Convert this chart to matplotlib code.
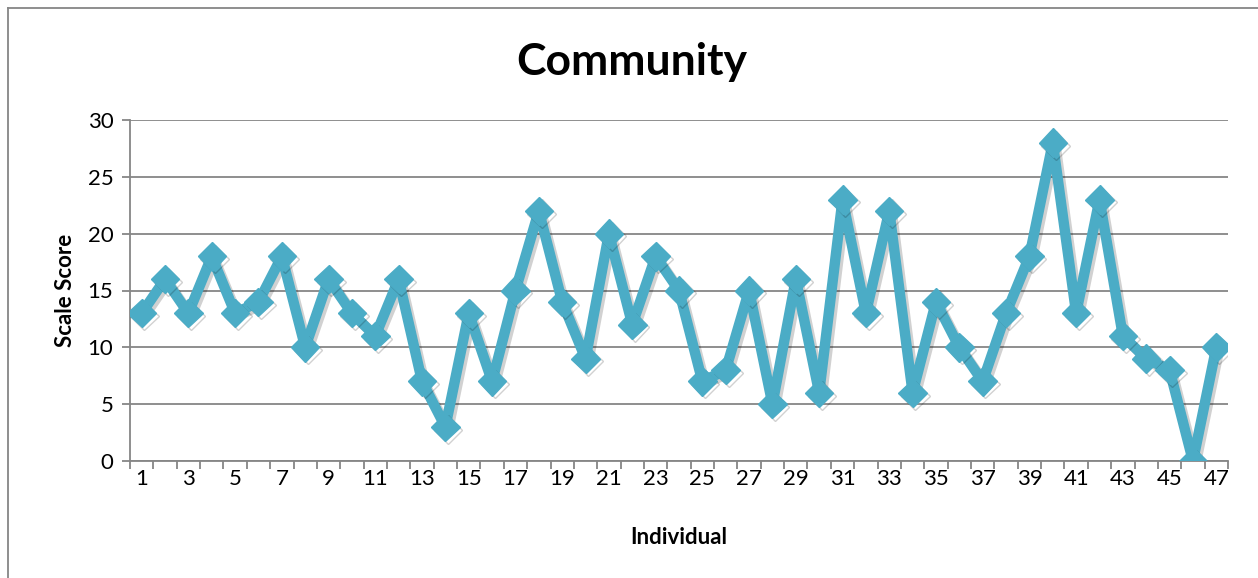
import matplotlib
matplotlib.use("Agg")
import matplotlib.pyplot as plt
import matplotlib.patheffects as pe
from matplotlib.lines import Line2D
from matplotlib.ticker import FixedLocator, NullFormatter

individuals = list(range(1, 48))
scores = [13, 16, 13, 18, 13, 14, 18, 10, 16, 13, 11, 16, 7, 3, 13, 7, 15, 22, 14, 9,
          20, 12, 18, 15, 7, 8, 15, 5, 16, 6, 23, 13, 22, 6, 14, 10, 7, 13, 18, 28,
          13, 23, 11, 9, 8, 0, 10]
tick_labels = [str(i) if i % 2 == 1 else "" for i in individuals]
y_ticks = [0, 5, 10, 15, 20, 25, 30]

plt.rcParams['font.family'] = ['Lato', 'DejaVu Sans']

W, H = 1258, 578
fig = plt.figure(figsize=(W / 100, H / 100), dpi=100)
ax = fig.add_axes([130 / W, 1 - 461 / H, (1228 - 130) / W, (461 - 120) / H])

line_color = '#4BACC6'
grid_color = '#868686'

ax.plot(individuals, scores, color=line_color, lw=7.5, marker='D', ms=14.5,
        mec=line_color, mfc=line_color, solid_joinstyle='round', zorder=3,
        path_effects=[pe.SimpleLineShadow(offset=(2, -2), shadow_color='black', alpha=0.18),
                      pe.Normal()])

ax.set_xlim(0.5, 47.5)
ax.set_ylim(0, 30)
ax.set_yticks(y_ticks)
ax.yaxis.grid(True, color=grid_color, lw=1.3)
ax.set_axisbelow(True)

ax.set_xticks(individuals)
ax.set_xticklabels(tick_labels)
ax.tick_params(axis='x', length=0, pad=6, labelsize=16)
ax.xaxis.set_minor_locator(FixedLocator([i + 0.5 for i in range(0, 48)]))
ax.xaxis.set_minor_formatter(NullFormatter())
ax.tick_params(axis='x', which='minor', length=6, width=1.3, color=grid_color, direction='out')
ax.tick_params(axis='y', length=6, width=1.3, color=grid_color, labelsize=16, pad=6)

for side in ('top', 'right'):
    ax.spines[side].set_visible(False)
for side in ('left', 'bottom'):
    ax.spines[side].set_color(grid_color)
    ax.spines[side].set_linewidth(1.3)

ax.set_xlabel('Individual', fontsize=16, fontweight='bold', labelpad=27)
ax.set_ylabel('Scale Score', fontsize=16, fontweight='bold', labelpad=8)
fig.text(632 / W, 1 - 62 / H, 'Community', ha='center', va='center',
         fontsize=32, fontweight='bold')

# outer chart frame
fig.add_artist(Line2D([8 / W, 8 / W], [0, 1 - 8 / H], color=grid_color, lw=1.3,
                      transform=fig.transFigure))
fig.add_artist(Line2D([8 / W, 1], [1 - 8 / H, 1 - 8 / H], color=grid_color, lw=1.3,
                      transform=fig.transFigure))

fig.savefig('out.png', dpi=100)
